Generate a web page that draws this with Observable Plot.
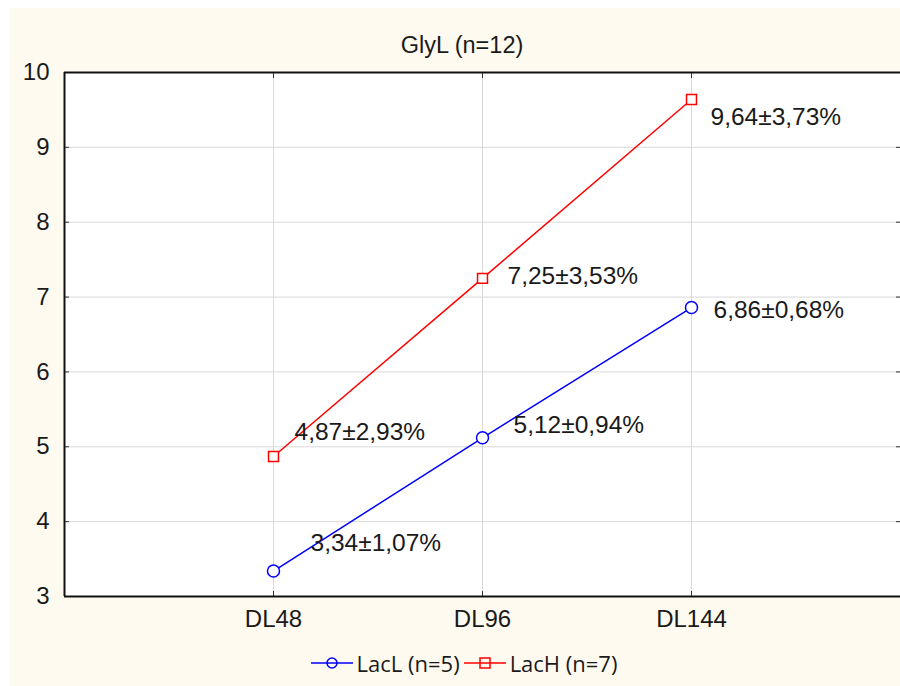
<!DOCTYPE html>
<html><head><meta charset="utf-8">
<script src="https://cdn.jsdelivr.net/npm/d3@7"></script>
<script src="https://cdn.jsdelivr.net/npm/@observablehq/plot@0.6"></script>
<style>
body{margin:0;background:#fff;}
#wrap{position:absolute;left:10px;top:8px;width:890px;height:678px;background:#fffaf0;font-family:"Liberation Sans",Arial,sans-serif;color:#1a1a1a;}
#title{height:56px;line-height:74px;text-align:center;font-size:23.5px;padding-left:14px;box-sizing:border-box;}
#legend{position:absolute;top:632px;left:0;width:890px;height:46px;display:flex;justify-content:center;align-items:center;font-family:"Open Sans",sans-serif;font-size:22px;padding-left:22px;box-sizing:border-box;}
#legend .item{display:flex;align-items:center;margin-right:4px;}
#legend svg{margin-right:4px;}
</style></head>
<body>
<div id="wrap">
  <div id="title"></div>
  <div id="chart"></div>
  <div id="legend"></div>
</div>
<script>
const title = "GlyL (n=12)";
const categories = ["DL48", "DL96", "DL144"];
const seriesNames = ["LacL (n=5)", "LacH (n=7)"];
const lacL = [3.34, 5.12, 6.86];
const lacLSd = [1.07, 0.94, 0.68];
const lacH = [4.87, 7.25, 9.64];
const lacHSd = [2.93, 3.53, 3.73];
const yTicks = [3, 4, 5, 6, 7, 8, 9, 10];

// label placement (styling, not data)
const lacLOffsets = [[37, -28], [31, -13], [22, 3]];
const lacHOffsets = [[21, -24], [25, -2], [19, 18]];

const fmt = v => v.toFixed(2).replace(".", ",");
const rows = s => s.vals.map((v, i) => ({series: s.name, x: i + 1, y: v, label: `${fmt(v)}±${fmt(s.sd[i])}%`, off: s.off[i]}));
const series = [
  {name: seriesNames[0], vals: lacL, sd: lacLSd, color: "#0000ff", symbol: "circle", off: lacLOffsets},
  {name: seriesNames[1], vals: lacH, sd: lacHSd, color: "#ff0000", symbol: "square", off: lacHOffsets}
];

document.getElementById("title").textContent = title;

const marks = [
  Plot.frame({fill: "white", stroke: null}),
  Plot.gridY(yTicks, {stroke: "#d9d9d9", strokeOpacity: 1}),
  Plot.gridX([1, 2, 3], {stroke: "#d9d9d9", strokeOpacity: 1}),
];
for (const s of series) {
  const d = rows(s);
  marks.push(Plot.line(d, {x: "x", y: "y", stroke: s.color, strokeWidth: 1.5}));
  marks.push(Plot.dot(d, {x: "x", y: "y", stroke: s.color, fill: "white", strokeWidth: 1.5, symbol: s.symbol, r: s.symbol === "square" ? 5.6 : 6}));
  for (const r of d) {
    marks.push(Plot.text([r], {x: "x", y: "y", text: "label", textAnchor: "start", dx: r.off[0], dy: r.off[1], fontSize: 24.5, fill: "#1a1a1a", fontFamily: "Liberation Sans, Arial, sans-serif"}));
  }
}
marks.push(
  Plot.axisY(yTicks, {anchor: "left", tickSize: -5, tickPadding: 20, fontSize: 24, stroke: "#333", tickFormat: "d", label: null}),
  Plot.axisY(yTicks, {anchor: "right", tickSize: -5, tickFormat: () => "", stroke: "#333", label: null}),
  Plot.axisX([1, 2, 3], {anchor: "bottom", tickSize: -5, tickPadding: 18, tickFormat: i => categories[i - 1], fontSize: 24, stroke: "#333", label: null}),
  Plot.axisX([1, 2, 3], {anchor: "top", tickSize: -5, tickFormat: () => "", stroke: "#333", label: null}),
  Plot.ruleY([3, 10], {stroke: "#111", strokeWidth: 2}),
  Plot.ruleX([0], {stroke: "#111", strokeWidth: 2})
);

const chart = Plot.plot({
  width: 890,
  height: 576,
  marginLeft: 54,
  marginRight: 0,
  marginTop: 8,
  marginBottom: 44,
  style: {background: "transparent", fontFamily: "Liberation Sans, Arial, sans-serif", color: "#1a1a1a", overflow: "visible"},
  x: {domain: [0, 4], label: null},
  y: {domain: [3, 10], label: null},
  marks
});
document.getElementById("chart").appendChild(chart);

const legend = document.getElementById("legend");
for (const s of series) {
  const item = document.createElement("div");
  item.className = "item";
  const ns = "http://www.w3.org/2000/svg";
  const sw = document.createElementNS(ns, "svg");
  sw.setAttribute("width", 42); sw.setAttribute("height", 20);
  const ln = document.createElementNS(ns, "line");
  ln.setAttribute("x1", 0); ln.setAttribute("x2", 42); ln.setAttribute("y1", 10); ln.setAttribute("y2", 10);
  ln.setAttribute("stroke", s.color); ln.setAttribute("stroke-width", 1.5);
  sw.appendChild(ln);
  let m;
  if (s.symbol === "circle") {
    m = document.createElementNS(ns, "circle");
    m.setAttribute("cx", 21); m.setAttribute("cy", 10); m.setAttribute("r", 5);
  } else {
    m = document.createElementNS(ns, "rect");
    m.setAttribute("x", 16); m.setAttribute("y", 5); m.setAttribute("width", 10); m.setAttribute("height", 10);
  }
  m.setAttribute("fill", "none"); m.setAttribute("stroke", s.color); m.setAttribute("stroke-width", 1.5);
  sw.appendChild(m);
  item.appendChild(sw);
  const t = document.createElement("span");
  t.textContent = s.name;
  item.appendChild(t);
  legend.appendChild(item);
}
</script>
</body></html>
